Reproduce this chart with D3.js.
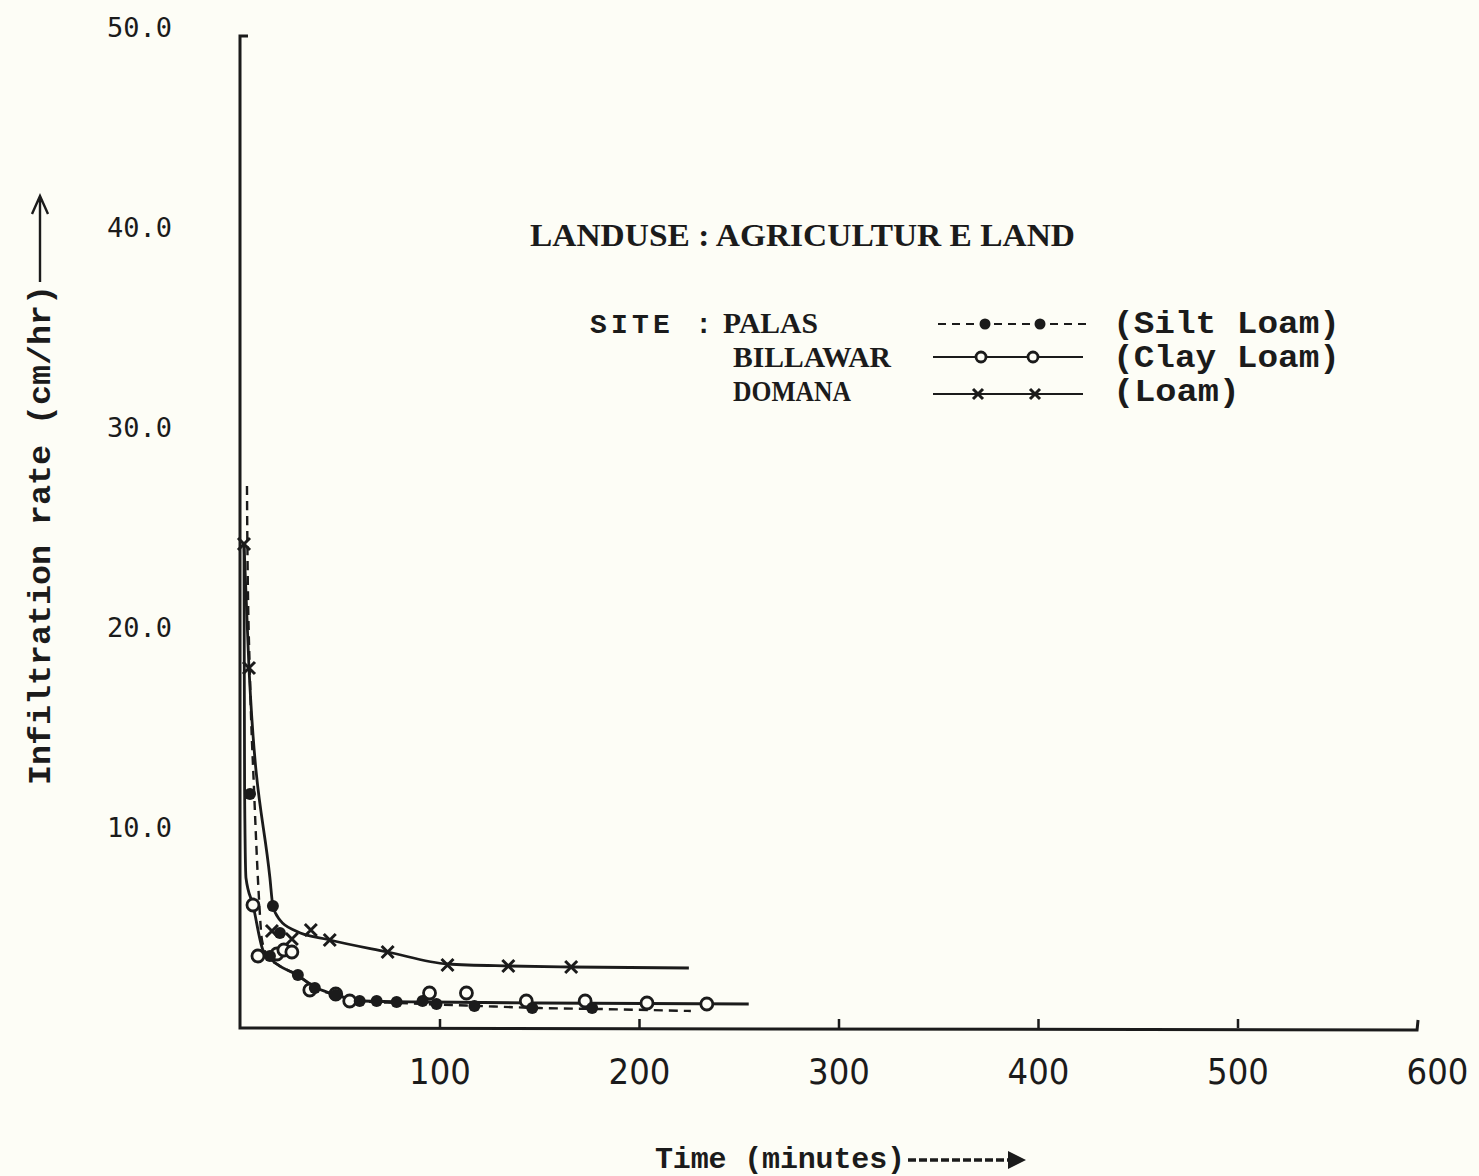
<!DOCTYPE html>
<html>
<head>
<meta charset="utf-8">
<script src="https://cdn.jsdelivr.net/npm/d3@7/dist/d3.min.js"></script>
<style>
  html, body { margin: 0; padding: 0; background: #fdfdf6; }
  svg { display: block; }
</style>
</head>
<body>
<svg id="chart" width="1479" height="1176"></svg>
<script>
// ---------------- DATA ----------------
const xTicks = [100, 200, 300, 400, 500, 600];
const yTicks = [10, 20, 30, 40, 50];
const titleText = "LANDUSE : AGRICULTUR E LAND";
const sites = ["PALAS", "BILLAWAR", "DOMANA"];
const soils = ["(Silt Loam)", "(Clay Loam)", "(Loam)"];

// Palas (filled dots, dashed curve)
const palasPtT = [5, 15, 16.5, 20, 29, 37.5, 48, 60, 68.5, 78.5, 91.5, 98.5, 117.5, 146.5, 176.5];
const palasPtV = [11.7, 3.6, 6.1, 4.75, 2.65, 2.0, 1.65, 1.35, 1.35, 1.3, 1.35, 1.2, 1.1, 1.0, 1.0];
const palasCurveT = [3.5, 3.7, 5, 7, 9.5, 11, 14, 20, 29, 37.5, 48, 60, 80, 120, 150, 180, 226];
const palasCurveV = [27.1, 24.2, 17.5, 12, 6.5, 4.4, 3.6, 3.1, 2.65, 2.0, 1.65, 1.35, 1.25, 1.1, 1.0, 0.95, 0.85];

// Billawar (open circles, solid curve)
const billawarPtT = [6.5, 9, 18.5, 22, 26, 35, 48, 55, 95, 113.5, 143.5, 173, 204, 234];
const billawarPtV = [6.15, 3.6, 3.7, 3.9, 3.8, 1.9, 1.7, 1.35, 1.75, 1.75, 1.35, 1.35, 1.25, 1.2];
const billawarCurveT = [2, 2.3, 3, 6.5, 11.5, 16.5, 28.5, 38.5, 48.5, 61.5, 95, 150, 255];
const billawarCurveV = [24.2, 12, 7.5, 6.15, 3.9, 3.35, 2.65, 2.0, 1.65, 1.35, 1.3, 1.25, 1.2];

// Domana (crosses, solid curve)
const domanaPtT = [2, 4.5, 16, 26, 35.5, 45, 74, 104, 134.5, 166];
const domanaPtV = [24.2, 18.0, 4.85, 4.45, 4.9, 4.4, 3.8, 3.15, 3.1, 3.05];
const domanaCurveT = [2, 4.5, 15, 16.5, 20, 28, 45, 74, 104, 135, 166, 225];
const domanaCurveV = [24.2, 18.0, 7.5, 6.1, 5.4, 4.85, 4.4, 3.8, 3.2, 3.1, 3.05, 3.0];

const xAxisEnd = 590;

// ---------------- DRAW ----------------
const ink = "#1b1b1b";
const paper = "#fdfdf6";
const svg = d3.select("#chart");
svg.append("rect").attr("width", 1479).attr("height", 1176).attr("fill", paper);

const x = d3.scaleLinear().domain([0, 600]).range([240, 1437]);
const y = d3.scaleLinear().domain([0, 50]).range([1028, 28]);

const zip = (ts, vs) => ts.map((t, i) => ({ t, v: vs[i] }));

// axes lines
svg.append("path")
  .attr("d", `M${x(0) + 8},${y(49.6)} L${x(0)},${y(49.6)} L${x(0)},${y(0)} L${x(xAxisEnd)},${y(0) + 2} L${x(xAxisEnd) + 1},${y(0) - 8}`)
  .attr("fill", "none").attr("stroke", ink).attr("stroke-width", 3);

// x axis ticks + labels
const xAxis = d3.axisBottom(x).tickValues(xTicks).tickSizeInner(-9).tickSizeOuter(0).tickPadding(30)
  .tickFormat(d3.format("d"));
const gx = svg.append("g").attr("transform", `translate(0,${y(0)})`).call(xAxis);
gx.select(".domain").remove();
gx.selectAll(".tick line").attr("stroke", ink).attr("stroke-width", 2.5)
  .filter(d => d > xAxisEnd).remove();
gx.selectAll(".tick text")
  .attr("fill", ink)
  .style("font-family", "'Liberation Sans Narrow', 'DejaVu Sans Condensed', 'Arial Narrow', sans-serif")
  .style("font-size", "36px");

// y axis labels
const yAxis = d3.axisLeft(y).tickValues(yTicks).tickSize(0).tickPadding(68).tickFormat(d3.format(".1f"));
const gy = svg.append("g").attr("transform", `translate(${x(0)},0)`).call(yAxis);
gy.select(".domain").remove();
gy.selectAll(".tick text")
  .attr("fill", ink)
  .style("font-family", "'DejaVu Sans Mono', monospace")
  .style("font-size", "27px");

// axis titles
svg.append("text")
  .attr("transform", "translate(50,785) rotate(-90)")
  .attr("fill", ink)
  .style("font-family", "'Liberation Mono', monospace")
  .style("font-size", "31px").style("font-weight", "bold")
  .attr("textLength", 500).attr("lengthAdjust", "spacingAndGlyphs")
  .text("Infiltration rate (cm/hr)");
svg.append("path")
  .attr("d", "M40,282 L40,198 M32,214 L40,196 L48,214")
  .attr("fill", "none").attr("stroke", ink).attr("stroke-width", 2.4);

svg.append("text")
  .attr("x", 655).attr("y", 1168)
  .attr("fill", ink)
  .style("font-family", "'Liberation Mono', monospace")
  .style("font-size", "30px").style("font-weight", "bold")
  .attr("textLength", 250)
  .text("Time (minutes)");
svg.append("path")
  .attr("d", "M908,1160 L1012,1160")
  .attr("stroke", ink).attr("stroke-width", 3.5).attr("stroke-dasharray", "8,3");
svg.append("path").attr("d", "M1008,1151 L1026,1160 L1008,1169 Z").attr("fill", ink);

// curves
const line = d3.line().x(d => x(d.t)).y(d => y(d.v)).curve(d3.curveMonotoneX);
svg.append("path").datum(zip(domanaCurveT, domanaCurveV)).attr("d", line)
  .attr("fill", "none").attr("stroke", ink).attr("stroke-width", 2.8);
svg.append("path").datum(zip(billawarCurveT, billawarCurveV)).attr("d", line)
  .attr("fill", "none").attr("stroke", ink).attr("stroke-width", 2.8);
svg.append("path").datum(zip(palasCurveT, palasCurveV)).attr("d", line)
  .attr("fill", "none").attr("stroke", ink).attr("stroke-width", 2.4).attr("stroke-dasharray", "9,6");

// markers
function dot(g, cx, cy, r) {
  g.append("circle").attr("cx", cx).attr("cy", cy).attr("r", r).attr("fill", ink);
}
function ring(g, cx, cy, r) {
  g.append("circle").attr("cx", cx).attr("cy", cy).attr("r", r)
    .attr("fill", paper).attr("stroke", ink).attr("stroke-width", 2.8);
}
function cross(g, cx, cy, s) {
  g.append("path").attr("d", `M${cx - s},${cy - s} L${cx + s},${cy + s} M${cx + s},${cy - s} L${cx - s},${cy + s}`)
    .attr("stroke", ink).attr("stroke-width", 3).attr("fill", "none");
}
const gm = svg.append("g");
zip(billawarPtT, billawarPtV).forEach(d => ring(gm, x(d.t), y(d.v), 6));
zip(palasPtT, palasPtV).forEach(d => dot(gm, x(d.t), y(d.v), 6));
zip(domanaPtT, domanaPtV).forEach(d => cross(gm, x(d.t), y(d.v), 6));

// ---------------- LEGEND ----------------
svg.append("text")
  .attr("x", 530).attr("y", 246)
  .attr("fill", ink)
  .style("font-family", "'Liberation Serif', serif")
  .style("font-size", "31px").style("font-weight", "bold")
  .attr("textLength", 545).attr("lengthAdjust", "spacingAndGlyphs")
  .text(titleText);

svg.append("text")
  .attr("x", 590).attr("y", 333)
  .attr("fill", ink)
  .style("font-family", "'Liberation Mono', monospace")
  .style("font-size", "28px").style("font-weight", "bold")
  .attr("textLength", 122)
  .text("SITE :");

const rowY = [333, 367, 401];
const nameX = [723, 733, 733];
const nameW = [95, 158, 118];
sites.forEach((s, i) => {
  svg.append("text")
    .attr("x", nameX[i]).attr("y", rowY[i])
    .attr("fill", ink)
    .style("font-family", "'Liberation Serif', serif")
    .style("font-size", "29px").style("font-weight", "bold")
    .attr("textLength", nameW[i]).attr("lengthAdjust", "spacingAndGlyphs")
    .text(s);
});
const soilW = [227, 227, 127];
soils.forEach((s, i) => {
  svg.append("text")
    .attr("x", 1113).attr("y", rowY[i])
    .attr("fill", ink)
    .style("font-family", "'Liberation Mono', monospace")
    .style("font-size", "32px").style("font-weight", "bold")
    .attr("textLength", soilW[i]).attr("lengthAdjust", "spacingAndGlyphs")
    .text(s);
});

// legend samples
const sampleY = [324, 357, 394];
svg.append("line").attr("x1", 938).attr("x2", 1088).attr("y1", sampleY[0]).attr("y2", sampleY[0])
  .attr("stroke", ink).attr("stroke-width", 2).attr("stroke-dasharray", "8,6");
dot(svg, 985, sampleY[0], 5.5); dot(svg, 1040, sampleY[0], 5.5);
svg.append("line").attr("x1", 933).attr("x2", 1083).attr("y1", sampleY[1]).attr("y2", sampleY[1])
  .attr("stroke", ink).attr("stroke-width", 2);
ring(svg, 981, sampleY[1], 5); ring(svg, 1033, sampleY[1], 5);
svg.append("line").attr("x1", 933).attr("x2", 1083).attr("y1", sampleY[2]).attr("y2", sampleY[2])
  .attr("stroke", ink).attr("stroke-width", 2);
cross(svg, 978, sampleY[2], 5); cross(svg, 1035, sampleY[2], 5);
</script>
</body>
</html>
